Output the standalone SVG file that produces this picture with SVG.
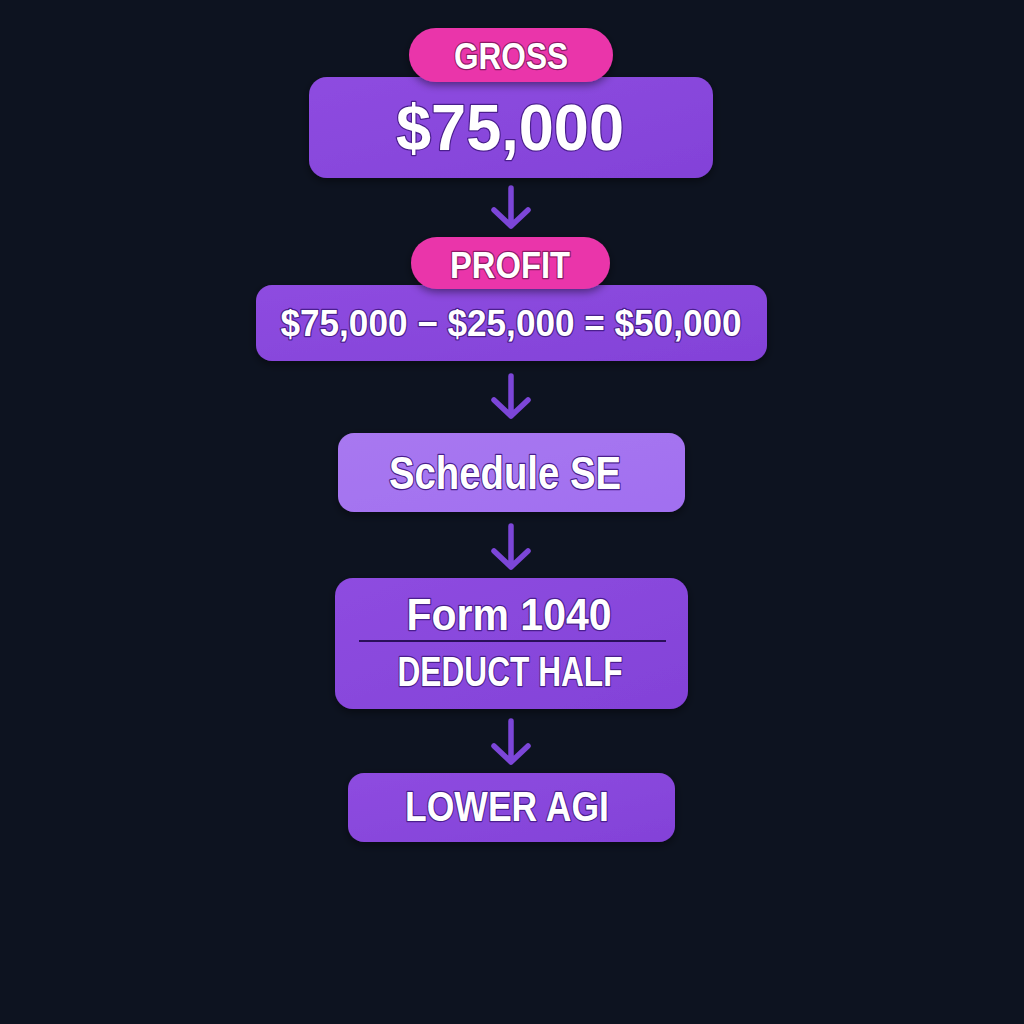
<svg xmlns="http://www.w3.org/2000/svg" width="1024" height="1024" viewBox="0 0 1024 1024">
<defs>
<linearGradient id="gBox" x1="0" y1="0" x2="1" y2="1">
<stop offset="0" stop-color="#8e4ce0"/>
<stop offset="1" stop-color="#8342d8"/>
</linearGradient>
<linearGradient id="gLight" x1="0" y1="0" x2="1" y2="1">
<stop offset="0" stop-color="#a878f0"/>
<stop offset="1" stop-color="#a16ff0"/>
</linearGradient>
<filter id="sh" x="-10%" y="-20%" width="120%" height="150%">
<feDropShadow dx="0" dy="3" stdDeviation="4" flood-color="#000" flood-opacity="0.45"/>
</filter>
</defs>
<style>
.bg{fill:#0d1320}
.box{fill:url(#gBox)}
.light{fill:url(#gLight)}
.pill{fill:#ea36aa}
text{font-family:"Liberation Sans","DejaVu Sans",sans-serif;font-weight:bold;fill:#fff;text-anchor:middle;stroke:#4b1f8e;stroke-width:2.5;paint-order:stroke;stroke-linejoin:round}
.pt{stroke:#8e1a66}
.arrow{fill:none;stroke:#7c46d8;stroke-width:5.5;stroke-linecap:round;stroke-linejoin:round}
</style>
<rect class="bg" width="1024" height="1024"/>
<g id="connectors">
<path class="arrow" d="M511 188 V226 M494 210 L511 226 L528 210"/>
<path class="arrow" d="M511 376 V416 M494 400 L511 416 L528 400"/>
<path class="arrow" d="M511 526 V567 M494 551 L511 567 L528 551"/>
<path class="arrow" d="M511 721 V762 M494 746 L511 762 L528 746"/>
</g>
<g id="node-gross">
<rect class="box" x="309" y="77" width="404" height="101" rx="18" filter="url(#sh)"/>
<rect class="pill" x="409" y="28" width="204" height="54" rx="27" filter="url(#sh)"/>
<text class="pt" x="511" y="69" font-size="36" textLength="114" lengthAdjust="spacingAndGlyphs">GROSS</text>
<text x="510" y="150" font-size="65" textLength="228" lengthAdjust="spacingAndGlyphs">$75,000</text>
</g>
<g id="node-profit">
<rect class="box" x="256" y="285" width="511" height="76" rx="16" filter="url(#sh)"/>
<rect class="pill" x="411" y="237" width="199" height="52" rx="26" filter="url(#sh)"/>
<text class="pt" x="510" y="278" font-size="36" textLength="120" lengthAdjust="spacingAndGlyphs">PROFIT</text>
<text x="511" y="336" font-size="36" textLength="461" lengthAdjust="spacingAndGlyphs">$75,000 − $25,000 = $50,000</text>
</g>
<g id="node-schedule-se">
<rect class="light" x="338" y="433" width="347" height="79" rx="16" filter="url(#sh)"/>
<text x="505" y="489" font-size="46" textLength="232" lengthAdjust="spacingAndGlyphs">Schedule SE</text>
</g>
<g id="node-form1040">
<rect class="box" x="335" y="578" width="353" height="131" rx="18" filter="url(#sh)"/>
<text x="509" y="630" font-size="44" textLength="205" lengthAdjust="spacingAndGlyphs">Form 1040</text>
<line x1="359" y1="641" x2="666" y2="641" stroke="#2a0f5a" stroke-width="2"/>
<text x="510" y="686" font-size="42" textLength="225" lengthAdjust="spacingAndGlyphs">DEDUCT HALF</text>
</g>
<g id="node-lower-agi">
<rect class="box" x="348" y="773" width="327" height="69" rx="16" filter="url(#sh)"/>
<text x="507" y="821" font-size="43" textLength="204" lengthAdjust="spacingAndGlyphs">LOWER AGI</text>
</g>
</svg>
